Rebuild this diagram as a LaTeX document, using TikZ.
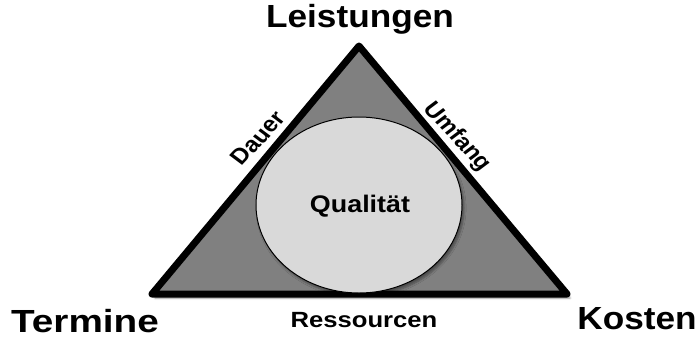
\documentclass[tikz,border=0pt]{standalone}
\usepackage{fontspec}
\setmainfont{Liberation Sans}
\usetikzlibrary{shadows.blur,shapes.geometric}
\definecolor{triFill}{RGB}{128,128,128}
\definecolor{ellFill}{RGB}{217,217,217}
\tikzset{
  corner/.style={font=\bfseries\fontsize{32}{32}\selectfont, inner sep=0pt, xscale=1.1},
  sidelabel/.style={font=\bfseries\fontsize{22}{22}\selectfont, inner sep=0pt, xscale=1.12},
  centerlabel/.style={font=\bfseries\fontsize{24}{24}\selectfont, inner sep=0pt, xscale=1.12},
  tri/.style={draw=black, line width=7pt, line join=round, fill=triFill,
    blur shadow={shadow xshift=3pt, shadow yshift=-4pt, shadow blur steps=6, shadow opacity=45}},
  oval/.style={draw=black, line width=1pt, fill=ellFill,
    blur shadow={shadow xshift=2pt, shadow yshift=-3pt, shadow blur steps=5, shadow opacity=40}}
}
\begin{document}
\begin{tikzpicture}[x=1pt, y=-1pt]
  \useasboundingbox (0,0) rectangle (698,338);
  % corner points of the triangle
  \coordinate (apex) at (359,46);
  \coordinate (bl) at (152,294);
  \coordinate (br) at (567,294);
  \draw[tri] (apex) -- (br) -- (bl) -- cycle;
  % quality ellipse
  \node[oval, ellipse, minimum width=206pt, minimum height=176pt] (qual) at (359,205) {};
  \node[centerlabel] (qtext) at (360,206) {Qualität};
  % corner labels
  \node[corner] (leist) at (360,19) {Leistungen};
  \node[corner, xscale=1.1] (term) at (85,321) {Termine};
  \node[corner] (kost) at (637,319) {Kosten};
  % side labels
  \node[sidelabel, rotate=50] (dauer) at (258,138) {Dauer};
  \node[sidelabel, rotate=-50] (umf) at (457,137) {Umfang};
  \node[sidelabel, xscale=1.04] (ress) at (364,320) {Ressourcen};
\end{tikzpicture}
\end{document}
